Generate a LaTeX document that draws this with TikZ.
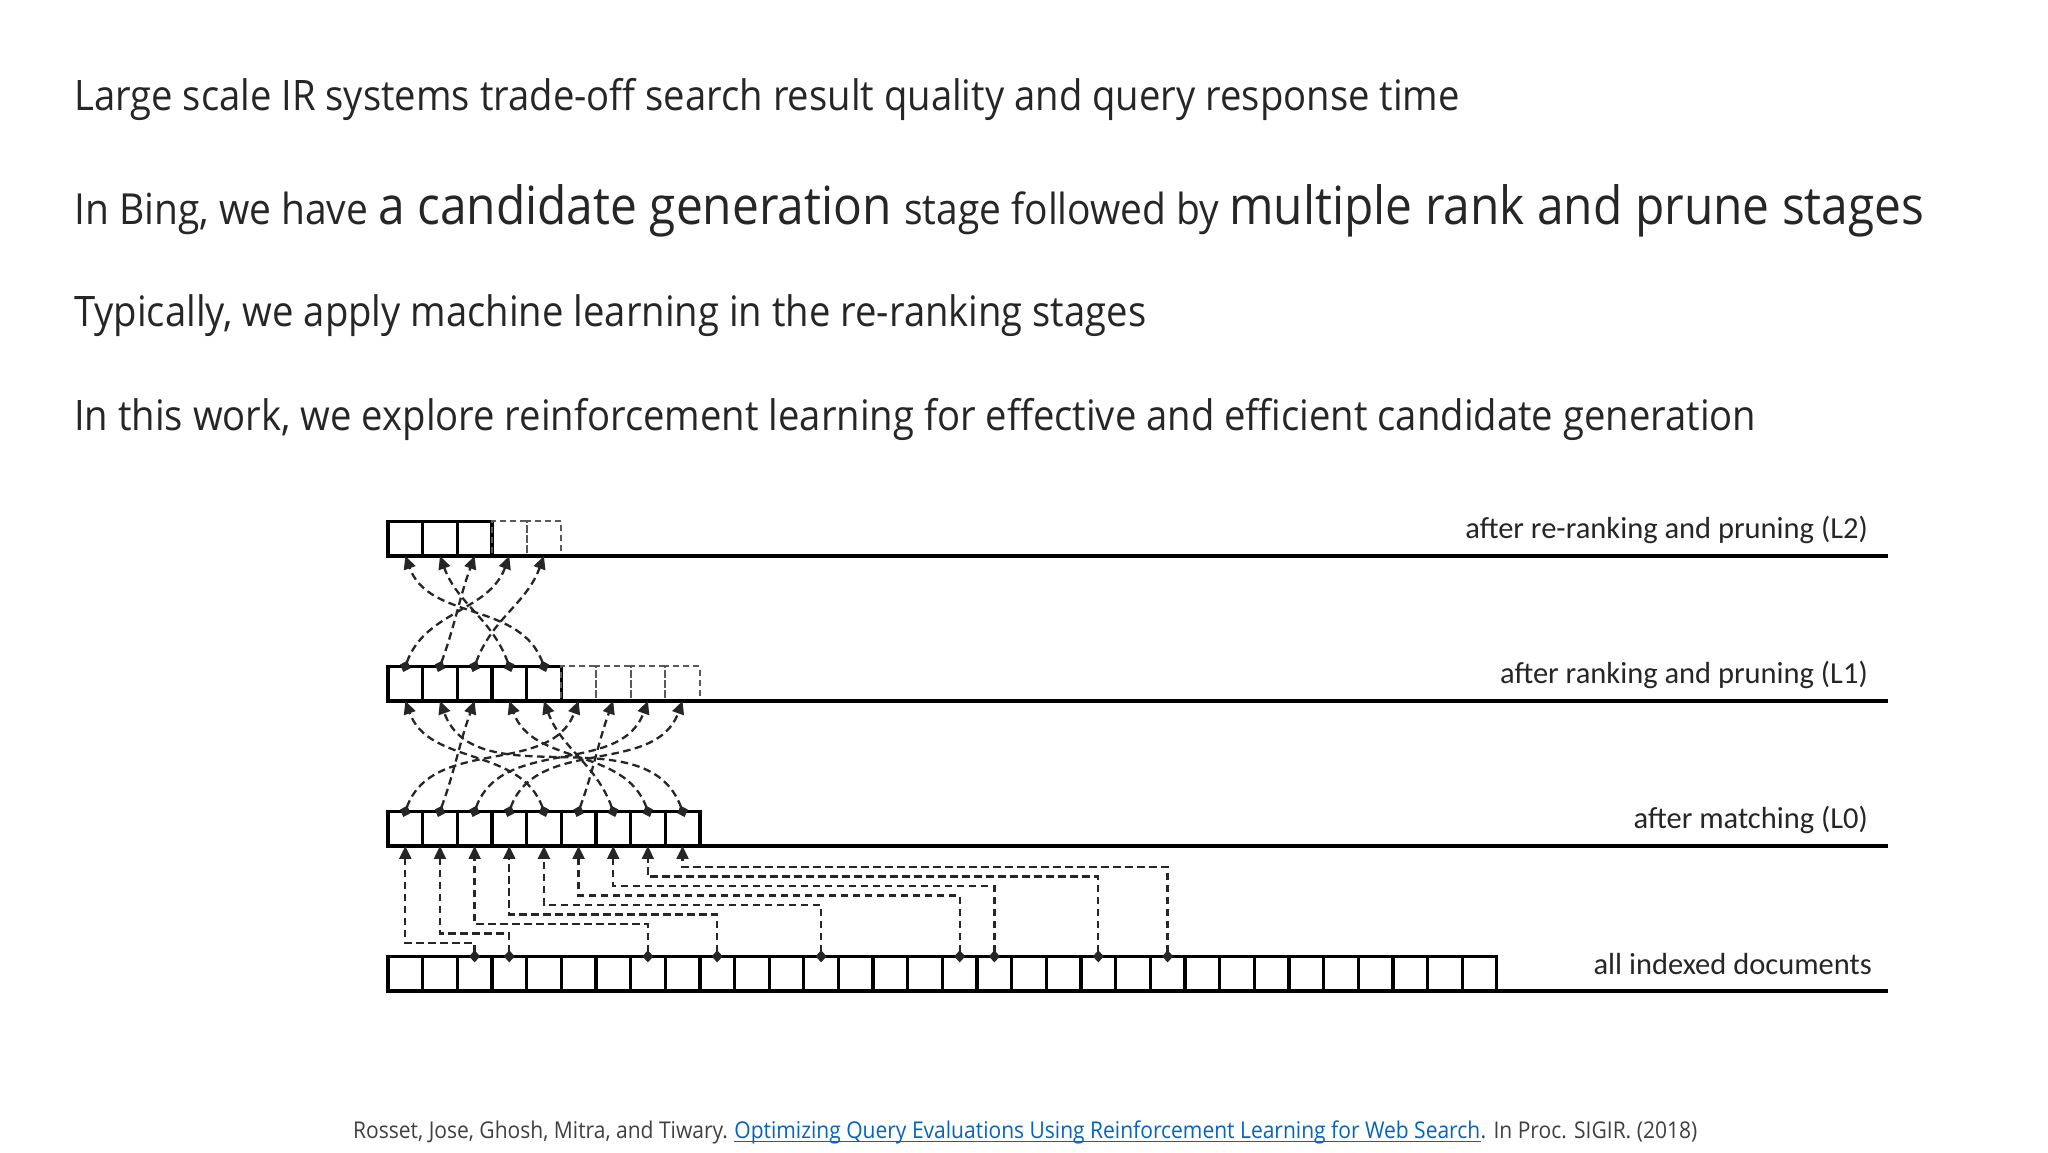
\documentclass[tikz,border=0pt]{standalone}
\usepackage{fontspec}
\usetikzlibrary{arrows.meta}
\setmainfont{Open Sans}[FakeStretch=0.91]
\newfontfamily\labfont{Carlito}
\definecolor{linkblue}{RGB}{5,99,193}
\newcommand\txtlo{\fontsize{42.8}{52}\selectfont}
\newcommand\txthi{\fontsize{52.6}{64}\selectfont}
\tikzset{
  doc/.style={draw,line width=3.3pt,minimum size=34.65pt,inner sep=0pt,outer sep=0pt,anchor=south west},
  ghost/.style={doc,line width=2pt,dash pattern=on 6pt off 4pt,draw=black!65},
  lvl/.style={line width=3.3pt},
  hop/.style={line width=2.3pt,draw=black!85,dash pattern=on 7.5pt off 4.5pt,shorten <=-6pt,
    {Diamond[width=11pt,length=12pt]}-{Triangle[width=12pt,length=13pt]}},
  tag/.style={anchor=base east,inner sep=0pt,text=black!85,font=\labfont\fontsize{30.5}{36}\selectfont},
  para/.style={anchor=base west,inner sep=0pt,text=black!85,font=\fontsize{42}{50}\selectfont},
  ref/.style={anchor=base west,inner sep=0pt,text=black!75,font=\fontsize{23.1}{28}\selectfont}
}

\begin{document}
\begin{tikzpicture}[x=1pt,y=1pt]
  \useasboundingbox (0,0) rectangle (2048,1152);
  \fill[white] (0,0) rectangle (2048,1152);
  \node[para] (p1) at (74,1041) {Large scale IR systems trade-off search result quality and query response time};
  \node[para] (p2) at (74,927) {\txtlo In Bing, we have \txthi a candidate generation \txtlo stage followed by \txthi multiple rank and prune stages};
  \node[para] (p3) at (74,825) {Typically, we apply machine learning in the re-ranking stages};
  \node[para] (p4) at (74,721) {In this work, we explore reinforcement learning for effective and efficient candidate generation};
  \foreach \i in {1,...,32} \node[doc] (d\i) at ({388+(\i-1)*34.65},161) {};
  \foreach \i in {1,...,9} \node[doc] (m\i) at ({388+(\i-1)*34.65},306) {};
  \foreach \i in {1,...,5} \node[doc] (r\i) at ({388+(\i-1)*34.65},451) {};
  \foreach \i in {6,...,9} \node[ghost] (r\i) at ({388+(\i-1)*34.65},451) {};
  \foreach \i in {1,...,3} \node[doc] (s\i) at ({388+(\i-1)*34.65},596) {};
  \foreach \i in {4,5} \node[ghost] (s\i) at ({388+(\i-1)*34.65},596) {};
  \coordinate (e0) at (1888,161);
  \coordinate (e1) at (1888,306);
  \coordinate (e2) at (1888,451);
  \coordinate (e3) at (1888,596);
  \draw[lvl] (d1.south west) -- (e0);
  \draw[lvl] (m1.south west) -- (e1);
  \draw[lvl] (r1.south west) -- (e2);
  \draw[lvl] (s1.south west) -- (e3);
  \node[tag] (t0) at (1872,178) {all indexed documents};
  \node[tag] (t1) at (1868,323) {after matching (L0)};
  \node[tag] (t2) at (1868,468) {after ranking and pruning (L1)};
  \node[tag] (t3) at (1868,613) {after re-ranking and pruning (L2)};
  \foreach \j/\k in {1/3,2/4,3/8,4/10,5/13,6/17,7/18,8/21,9/23}
    \draw[hop] (d\k.north) -- ++(0,{13.35+(\j-1)*9.5}) -| (m\j.south);
  \foreach \a/\b in {1/6,2/3,3/8,4/9,6/7}
    \draw[hop] (m\a.north) to[out=70,in=-110] (r\b.south);
  \foreach \a/\b in {5/1,7/5,8/4,9/2}
    \draw[hop] (m\a.north) to[out=110,in=-70] (r\b.south);
  \foreach \a/\b in {1/4,2/3,3/5}
    \draw[hop] (r\a.north) to[out=70,in=-110] (s\b.south);
  \foreach \a/\b in {4/2,5/1}
    \draw[hop] (r\a.north) to[out=110,in=-70] (s\b.south);
  \node[ref] (cite) at (353,14) {Rosset, Jose, Ghosh, Mitra, and Tiwary.};
  \node[ref,text=linkblue] (link) at ([xshift=6pt]cite.base east) {Optimizing Query Evaluations Using Reinforcement Learning for Web Search};
  \node[ref] (proc) at (link.base east) {. In Proc. SIGIR. (2018)};
  \draw[linkblue,line width=1.3pt] ([yshift=-3.5pt]link.base west) -- ([yshift=-3.5pt]link.base east);
\end{tikzpicture}
\end{document}
